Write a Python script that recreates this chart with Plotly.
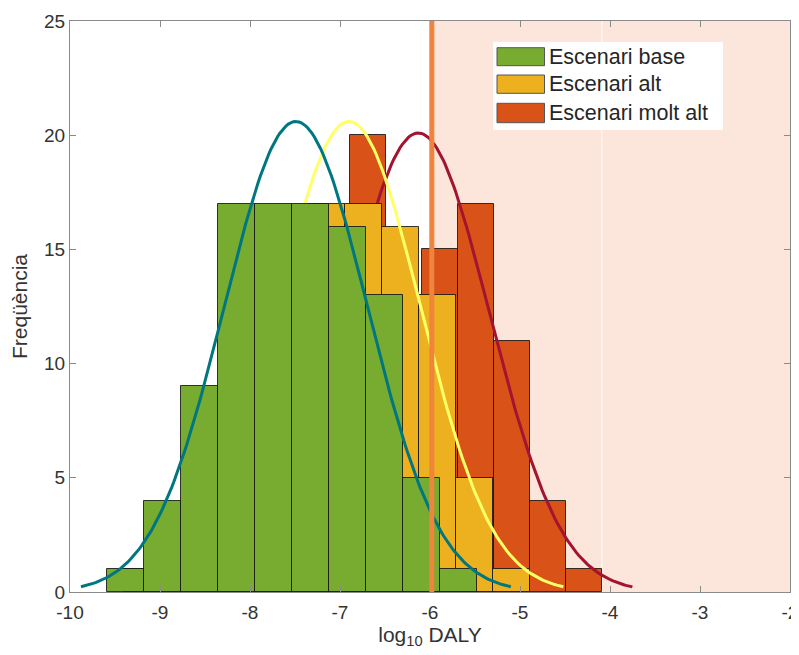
import numpy as np
import plotly.graph_objects as go

# ---------------- data ----------------
series_names = ["Escenari base", "Escenari alt", "Escenari molt alt"]

base_start = -9.59
base_width = 0.411
base_counts = [1, 4, 9, 17, 17, 17, 16, 13, 5, 1]

alt_start = -9.404
alt_width = 0.410
alt_counts = [1, 2, 5, 9, 14, 17, 17, 16, 13, 5, 1]

molt_start = -8.487
molt_width = 0.3995
molt_counts = [1, 2, 5, 11, 20, 13, 15, 17, 11, 4, 1]

# normal fits (histfit): mean and sigma of log10 DALY
fit_mu = [-7.49, -6.90, -6.13]
fit_sigma = [0.796, 0.794, 0.793]

threshold = -5.98          # vertical reference line
zone_split = -4.09         # faint divider inside the shaded zone
x_range = [-10, -2]
y_range = [0, 25]
x_ticks = [-10, -9, -8, -7, -6, -5, -4, -3, -2]
y_ticks = [0, 5, 10, 15, 20, 25]

# ---------------- styles ----------------
bar_colors = ["#77AC30", "#EDB120", "#D95319"]
curve_colors = ["#007780", "#FFFF66", "#A2142F"]
FONT = "Liberation Sans, Arial, Helvetica, sans-serif"
TXT = "#333333"
AXC = "#8a8a8a"

series = [
    (base_start, base_width, base_counts),
    (alt_start, alt_width, alt_counts),
    (molt_start, molt_width, molt_counts),
]

fig = go.Figure()

# draw order: molt alt (bottom), alt, base (top); each on its own overlaid axes
draw_order = [2, 1, 0]
for layer, idx in enumerate(draw_order):
    start, width, counts = series[idx]
    centers = [start + (i + 0.5) * width for i in range(len(counts))]
    xa = "x" if layer == 0 else f"x{layer + 1}"
    ya = "y" if layer == 0 else f"y{layer + 1}"
    fig.add_trace(go.Bar(
        x=centers, y=counts, width=width,
        marker=dict(color=bar_colors[idx], line=dict(color="rgba(20,20,20,0.85)", width=1)),
        name=series_names[idx], showlegend=False, xaxis=xa, yaxis=ya,
    ))
    n = sum(counts)
    mu, sg = fit_mu[idx], fit_sigma[idx]
    xs = np.linspace(mu - 3 * sg, mu + 3 * sg, 200)
    ys = n * width * np.exp(-0.5 * ((xs - mu) / sg) ** 2) / (sg * np.sqrt(2 * np.pi))
    fig.add_trace(go.Scatter(
        x=xs, y=ys, mode="lines", line=dict(color=curve_colors[idx], width=3),
        showlegend=False, hoverinfo="skip", xaxis=xa, yaxis=ya,
    ))

axis_common = dict(
    showline=True, linecolor=AXC, linewidth=1, mirror="ticks",
    ticks="inside", ticklen=6, tickcolor=AXC, showgrid=False, zeroline=False,
    tickfont=dict(family=FONT, size=19, color=TXT), automargin=False,
)

# page body has an 8px margin: figure is sized so the plot area lands at x 70-790, y 21-592
fig.update_layout(
    width=791, height=647,
    margin=dict(l=62, r=9, t=13, b=63),
    paper_bgcolor="white", plot_bgcolor="white",
    barmode="overlay", bargap=0,
    font=dict(family=FONT, color=TXT),
    xaxis=dict(range=x_range, tickvals=x_ticks, ticktext=[str(v) for v in x_ticks], **axis_common,
               ticklabelstandoff=3,
               title=dict(text="log<sub>10</sub> DALY", font=dict(family=FONT, size=21, color=TXT), standoff=4)),
    yaxis=dict(range=y_range, tickvals=y_ticks, ticktext=[str(v) for v in y_ticks], **axis_common,
               title=dict(text="Freqüència", font=dict(family=FONT, size=21, color=TXT), standoff=10)),
    xaxis2=dict(overlaying="x", matches="x", visible=False, anchor="y2"),
    yaxis2=dict(overlaying="y", matches="y", visible=False, anchor="x2"),
    xaxis3=dict(overlaying="x", matches="x", visible=False, anchor="y3"),
    yaxis3=dict(overlaying="y", matches="y", visible=False, anchor="x3"),
    showlegend=False,
)

# shaded zone beyond the threshold
fig.add_shape(type="rect", xref="x", yref="y", x0=threshold, x1=x_range[1], y0=y_range[0], y1=y_range[1],
              fillcolor="#FCE5DA", line=dict(width=0), layer="below")
fig.add_shape(type="line", xref="x", yref="y", x0=zone_split, x1=zone_split, y0=y_range[0], y1=y_range[1],
              line=dict(color="white", width=1), layer="below")
# threshold line
fig.add_shape(type="line", xref="x", yref="y", x0=threshold, x1=threshold, y0=y_range[0], y1=y_range[1],
              line=dict(color="#F0843C", width=5), layer="above")

# custom legend (paper coordinates from pixel layout of the plot area)
L, T, PW, PH = 70, 21, 720, 571
def px(xp): return (xp - L) / PW
def py(yp): return 1 - (yp - T) / PH

fig.add_shape(type="rect", xref="paper", yref="paper", x0=px(493), x1=px(723), y0=py(130), y1=py(42),
              fillcolor="white", line=dict(width=0), layer="above")
rows = [(47.7, 65.7), (75.0, 93.3), (103.3, 122.7)]
for i, (t, b) in enumerate(rows):
    fig.add_shape(type="rect", xref="paper", yref="paper", x0=px(497), x1=px(544.5), y0=py(b), y1=py(t),
                  fillcolor=bar_colors[i], line=dict(color="#555555", width=1), layer="above")
    fig.add_annotation(xref="paper", yref="paper", x=px(547), y=py((t + b) / 2), text=series_names[i],
                       showarrow=False, xanchor="left", yanchor="middle",
                       font=dict(family=FONT, size=21.5, color="#262626"))

fig.write_html("out.html")
